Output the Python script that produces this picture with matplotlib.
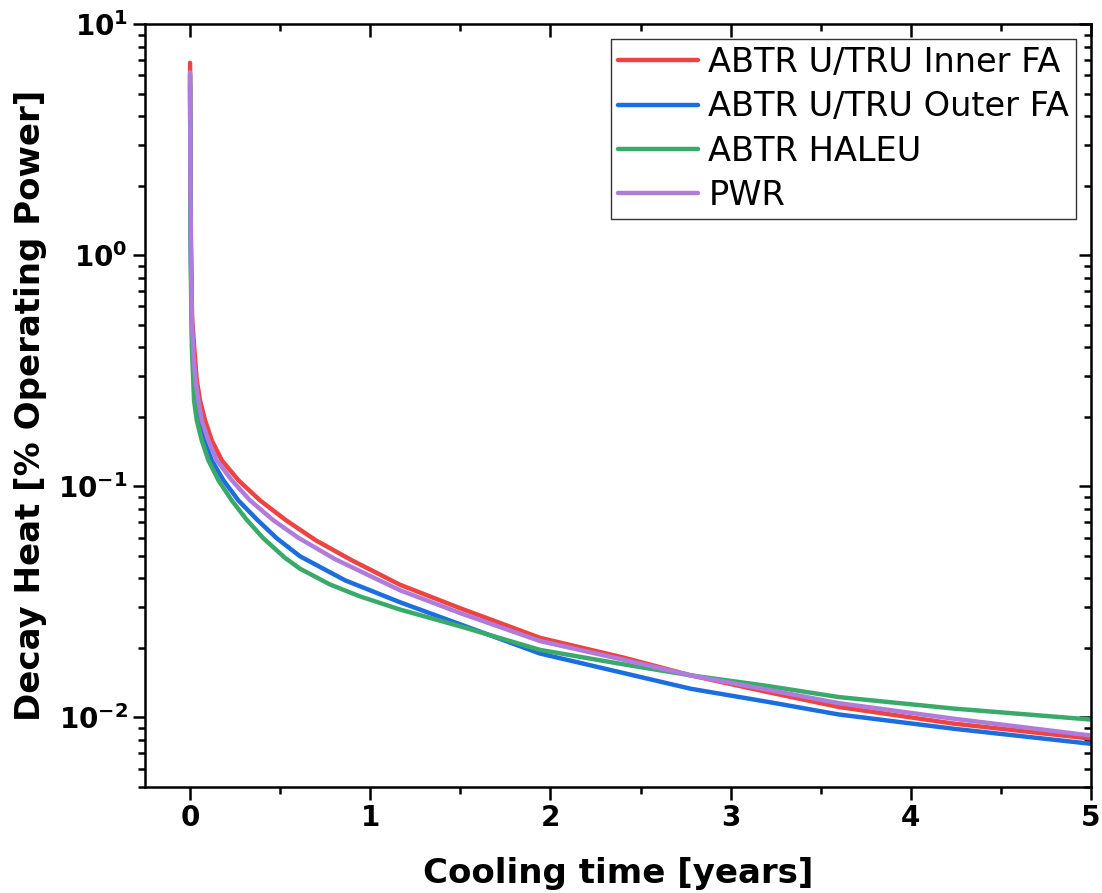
import numpy as np
import matplotlib
matplotlib.use("Agg")
import matplotlib.pyplot as plt
from matplotlib.ticker import LogLocator, MultipleLocator, NullFormatter

# cooling time [years] and decay heat [% operating power], read per curve
t_inner = [0, 0.002, 0.005, 0.011, 0.024, 0.037, 0.0555, 0.0832, 0.1204, 0.176, 0.268, 0.3885,
           0.5327, 0.6992, 0.899, 1.1654, 1.4983, 1.9423, 2.4, 2.78, 3.2, 3.6, 4.24, 5.0]
inner_fa = [6.8, 2.2, 1.1, 0.54, 0.388, 0.288, 0.235, 0.193, 0.158, 0.1296, 0.1063, 0.0869,
            0.0713, 0.0583, 0.0478, 0.0375, 0.0297, 0.0221, 0.0182, 0.0152, 0.0129, 0.0111, 0.0094, 0.0081]

t_outer = [0, 0.002, 0.005, 0.011, 0.02, 0.0333, 0.0499, 0.0794, 0.1204, 0.1848, 0.268, 0.3701,
           0.4811, 0.6104, 0.8602, 1.1654, 1.4983, 1.9423, 2.4, 2.78, 3.2, 3.6, 4.24, 5.0]
outer_fa = [6.0, 1.8, 0.9, 0.45, 0.33, 0.235, 0.193, 0.158, 0.1296, 0.1063, 0.0869, 0.0720,
            0.0596, 0.0498, 0.0392, 0.0315, 0.0253, 0.0189, 0.0156, 0.0133, 0.0117, 0.0103, 0.00893, 0.00769]

t_haleu = [0, 0.002, 0.005, 0.01, 0.0222, 0.0372, 0.0649, 0.1016, 0.157, 0.2314, 0.3147, 0.4068,
           0.5272, 0.6104, 0.7769, 0.943, 1.1654, 1.4983, 1.9423, 2.4, 2.78, 3.2, 3.6, 4.24, 5.0]
haleu = [5.5, 1.6, 0.75, 0.40, 0.235, 0.193, 0.158, 0.1296, 0.1063, 0.0869, 0.0716, 0.0596,
         0.0490, 0.0440, 0.0376, 0.0334, 0.0293, 0.0248, 0.0196, 0.0170, 0.0152, 0.0137, 0.01225, 0.01092, 0.00979]

t_pwr = [0, 0.002, 0.005, 0.011, 0.02, 0.03, 0.0461, 0.0649, 0.1016, 0.1482, 0.2314, 0.333,
         0.4623, 0.5993, 0.8047, 1.1654, 1.4983, 1.9423, 2.4, 2.78, 3.2, 3.6, 4.24, 5.0]
pwr = [6.2, 2.0, 1.0, 0.50, 0.36, 0.29, 0.235, 0.193, 0.158, 0.1296, 0.1063, 0.0869,
       0.0713, 0.0600, 0.0484, 0.0355, 0.0283, 0.0214, 0.0178, 0.0152, 0.0132, 0.01153, 0.00987, 0.00835]

labels = ["ABTR U/TRU Inner FA", "ABTR U/TRU Outer FA", "ABTR HALEU", "PWR"]
colors = ["#EE4343", "#1C6DDE", "#3AAA6A", "#B07CDC"]

plt.rcParams['font.family'] = 'DejaVu Sans'
plt.rcParams['mathtext.default'] = 'bf'

fig = plt.figure(figsize=(11.02, 8.93), dpi=100)
ax = fig.add_axes([0.1316, 0.1187, 0.8584, 0.8543])

series = [(t_inner, inner_fa), (t_outer, outer_fa), (t_haleu, haleu), (t_pwr, pwr)]
for (x, y), lab, c in zip(series, labels, colors):
    ax.plot(x, y, color=c, lw=3.2, label=lab, solid_capstyle='round', solid_joinstyle='round')

ax.set_yscale('log')
ax.set_xlim(-0.25, 5)
ax.set_ylim(0.005, 10)

ax.xaxis.set_major_locator(MultipleLocator(1))
ax.xaxis.set_minor_locator(MultipleLocator(0.5))
ax.yaxis.set_major_locator(LogLocator(base=10, numticks=10))
ax.yaxis.set_minor_locator(LogLocator(base=10, subs=np.arange(2, 10), numticks=20))
ax.yaxis.set_minor_formatter(NullFormatter())

for s in ax.spines.values():
    s.set_linewidth(1.8)

ax.tick_params(which='both', direction='out', width=1.8, labelsize=20)
ax.tick_params(which='major', length=9)
ax.tick_params(which='minor', length=5)
# mirrored ticks pointing inward on top and right
sec_x = ax.secondary_xaxis('top')
sec_x.xaxis.set_major_locator(MultipleLocator(1))
sec_x.xaxis.set_minor_locator(MultipleLocator(0.5))
sec_x.tick_params(which='both', direction='in', width=1.8, labeltop=False)
sec_x.tick_params(which='major', length=9)
sec_x.tick_params(which='minor', length=5)
sec_y = ax.secondary_yaxis('right')
sec_y.yaxis.set_major_locator(LogLocator(base=10, numticks=10))
sec_y.yaxis.set_minor_locator(LogLocator(base=10, subs=np.arange(2, 10), numticks=20))
sec_y.tick_params(which='both', direction='in', width=1.8, labelright=False)
sec_y.tick_params(which='major', length=9)
sec_y.tick_params(which='minor', length=5)
sec_y.yaxis.set_minor_formatter(NullFormatter())

for lab in ax.get_xticklabels() + ax.get_yticklabels():
    lab.set_fontweight('bold')

ax.set_xlabel("Cooling time [years]", fontsize=24.5, fontweight='bold', labelpad=18)
ax.set_ylabel("Decay Heat [% Operating Power]", fontsize=24.5, fontweight='bold', labelpad=8)

leg = ax.legend(loc='upper right', fontsize=24.2, fancybox=False, framealpha=1,
                edgecolor='#333333', handlelength=2.4, borderpad=0.2,
                labelspacing=0.34, handletextpad=0.3, borderaxespad=0.45)
leg.get_frame().set_linewidth(1.0)

fig.savefig("out.png", dpi=100)
